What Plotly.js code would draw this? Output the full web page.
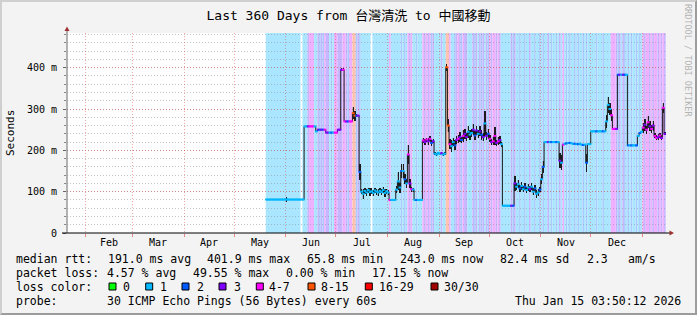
<!DOCTYPE html>
<html><head><meta charset="utf-8">
<script src="https://cdn.plot.ly/plotly-3.0.1.min.js"></script>
<style>
html,body{margin:0;padding:0;background:#f3f3f3;}
#wrap{position:relative;width:697px;height:315px;}
#chart{width:697px;height:315px;}
#frame{position:absolute;left:0;top:0;width:697px;height:315px;box-sizing:border-box;border:2px solid;border-color:#cfcfcf #9c9c9c #9c9c9c #cfcfcf;pointer-events:none;}
</style>
</head><body>
<div id="wrap"><div id="chart"></div><div id="frame"></div></div>
<script>
// ---------------- data ----------------
const titleText = 'Last 360 Days from 台灣清洗 to 中國移動';
const startDay = '2025-05-20';          // first day with samples
const xRange = ['2025-01-20 18:00', '2026-01-15 03:50'];

// daily median rtt (ms)
const median = [
 81,81,81,81,81,81,81,81,81,81,
 81,81,81,81,81,81,81,81,81,81,
 81,81,81,258,258,258,258,258,258,258,
 246,250,250,250,250,250,243,243,243,243,
 243,243,243,250,250,395,395,270,270,270,
 270,270,290,284,284,284,148,100,95,102,
 98,104,99,101,97,103,100,98,102,99,
 104,97,101,98,80,80,80,80,105,125,
 110,150,150,130,120,190,120,106,105,80,
 80,80,80,80,224,220,226,222,228,218,
 222,192,190,194,191,193,190,192,401,260,
 215,210,220,212,225,228,232,225,235,240,
 232,245,238,242,250,236,248,240,246,238,
 232,265,235,240,228,220,222,235,218,222,
 225,215,66,66,66,66,66,66,66,120,
 112,118,108,114,106,112,104,110,106,112,
 100,108,95,98,105,130,160,220,220,220,
 220,220,220,220,220,220,175,170,214,216,
 217,218,218,217,216,216,215,215,216,214,
 213,214,170,215,215,246,246,246,246,246,
 246,246,246,246,270,310,300,285,252,252,
 252,383,383,383,383,383,383,212,212,212,
 212,212,212,235,242,245,255,262,250,268,
 258,252,260,235,230,232,236,230,303,240
];
// daily smoke half-spread around the median (ms)
const spread = [
 0,0,0,0,0,0,0,0,0,0,
 0,0,5,0,0,0,0,0,0,0,
 0,0,0,0,0,0,0,0,0,0,
 0,0,0,0,0,0,0,0,0,0,
 0,0,0,0,0,4,4,0,0,0,
 0,0,15,12,4,0,20,6,12,7,
 8,6,9,7,8,6,7,9,6,8,
 7,9,6,7,0,0,0,0,8,22,
 12,18,18,12,10,22,10,6,5,0,
 0,0,0,0,6,7,5,8,6,7,
 5,3,3,3,3,3,3,3,8,15,
 12,14,10,12,10,10,12,8,14,12,
 10,15,12,10,14,10,12,10,12,12,
 10,30,10,12,8,8,10,22,8,10,
 10,6,0,0,0,0,0,0,0,18,
 8,10,8,10,7,9,7,8,7,9,
 8,7,10,8,6,12,15,0,0,0,
 0,0,0,0,0,0,18,18,0,0,
 0,0,0,0,0,0,0,0,0,0,
 0,0,22,0,0,0,0,0,0,0,
 0,0,0,0,15,20,15,15,0,0,
 0,0,0,0,0,0,0,0,0,0,
 0,0,0,0,0,0,12,14,10,14,
 12,10,12,6,6,8,6,6,12,4
];
// daily loss class (0 none, 1, 2, 3, 4 = 4-7, 8 = 8-15)
const lossClass = [
 1,1,1,1,1,1,1,1,1,1,
 1,1,1,1,1,1,1,1,1,1,
 1,0,1,1,1,3,4,4,4,1,
 1,3,2,3,2,4,3,3,1,2,
 1,4,4,3,3,3,4,4,3,2,
 4,4,8,8,2,3,2,1,1,1,
 1,1,1,0,1,1,1,1,1,1,
 1,1,1,1,4,1,1,1,1,1,
 1,2,1,2,1,4,3,4,1,1,
 2,1,1,1,4,3,4,3,4,2,
 3,1,1,1,1,3,1,1,8,8,
 4,1,1,2,3,4,3,2,4,3,
 3,1,1,1,3,2,3,1,3,2,
 3,1,3,2,4,3,4,4,3,4,
 3,1,1,1,1,1,1,3,2,3,
 1,1,2,1,1,2,1,1,3,1,
 1,2,1,1,2,1,2,1,1,3,
 1,2,1,1,2,1,3,1,4,1,
 2,1,2,1,1,2,1,2,1,1,
 2,1,2,1,1,1,1,1,2,1,
 1,1,2,1,1,1,1,4,4,4,
 3,2,3,1,3,2,1,2,1,2,
 1,1,2,1,2,1,4,3,4,4,
 3,4,3,4,4,3,4,3,4,3
];
const monthStarts = ['2025-02-01','2025-03-01','2025-04-01','2025-05-01','2025-06-01','2025-07-01',
  '2025-08-01','2025-09-01','2025-10-01','2025-11-01','2025-12-01','2026-01-01'];
const monthLabels = ['Feb','Mar','Apr','May','Jun','Jul','Aug','Sep','Oct','Nov','Dec'];
const yTickVals = [0,100,200,300,400];
const yTickText = ['0','100 m','200 m','300 m','400 m'];
const rttLabel = 'median rtt:';
const rttStats = ['191.0 ms avg','401.9 ms max','65.8 ms min','243.0 ms now','82.4 ms sd','2.3','am/s'];
const lossLabel = 'packet loss:';
const lossStats = ['4.57 % avg','49.55 % max','0.00 % min','17.15 % now'];
const colorLabel = 'loss color:';
const lossLegend = ['0','1','2','3','4-7','8-15','16-29','30/30'];
const lossLegendColors = ['#00ff00','#00b8ff','#0059ff','#7e00ff','#ff00ff','#ff5500','#ff0000','#a10000'];
const probeLabel = 'probe:';
const probeText = '30 ICMP Echo Pings (56 Bytes) every 60s';
const stampText = 'Thu Jan 15 03:50:12 2026';
const sideText = 'RRDTOOL / TOBI OETIKER';

// ---------------- styles / layout positions ----------------
const MONO = 'DejaVu Sans Mono, Noto Sans CJK TC, monospace';
const bgColors = {0:'#ffffff',1:'#aae6ff',2:'#aacbff',3:'#c6b6ff',4:'#eeb0ff',8:'#ffc2b0'};
const lineColors = {0:'#00b8ff',1:'#00b8ff',2:'#0059ff',3:'#7e00ff',4:'#ff00ff',8:'#ff5500'};
const L = 67, R = 666, T = 33, B = 233, W = 697, H = 315;
const px = v => (v - L) / (R - L);
const py = v => (B - v) / (B - T);
const rttX = [107.7, 207, 307.3, 400.3, 500, 586.7, 628.3];
const lossX = [107, 193.3, 286, 372];
const boxX = [109, 145.7, 182, 219, 256.3, 308, 365.3, 431];
const boxLabelX = [123, 160, 196.5, 233.5, 269.3, 321.3, 378.7, 444];
const rowY = [258.7, 273.3, 287, 301.3];
const textLeft = 16, probeX = 107, stampRight = 681;
const PAD = 2;

// ---------------- build ----------------
const DAY = 86400000;
const t0 = Date.parse(startDay + 'T00:00:00Z');
const iso = ms => new Date(ms).toISOString().replace('T',' ').slice(0,19);
const n = median.length;
const dayStart = median.map((_, i) => iso(t0 + i*DAY));
const dayEnd = iso(t0 + n*DAY);
const dayMid = median.map((_, i) => iso(t0 + i*DAY + DAY/2));

const shapes = [];
// loss background (merged runs), below gridlines
let runStart = 0;
for (let i = 1; i <= n; i++) {
  if (i === n || lossClass[i] !== lossClass[runStart]) {
    shapes.push({type:'rect', xref:'x', yref:'paper', x0: iso(t0+runStart*DAY), x1: iso(t0+i*DAY),
      y0:0, y1:1, fillcolor: bgColors[lossClass[runStart]], line:{width:0}, layer:'below'});
    runStart = i;
  }
}
// axes lines and arrows
shapes.push({type:'line', xref:'paper', yref:'paper', x0:0, x1:0, y0:0, y1:py(29), line:{color:'#6a6a6a', width:1}, layer:'above'});
shapes.push({type:'line', xref:'paper', yref:'paper', x0:px(62), x1:px(670), y0:0, y1:0, line:{color:'#000000', width:1}, layer:'above'});
shapes.push({type:'path', xref:'paper', yref:'paper',
  path:`M ${px(64.5)} ${py(31)} L ${px(67)} ${py(26.5)} L ${px(69.5)} ${py(31)} Z`, fillcolor:'#a03030', line:{width:0}, layer:'above'});
shapes.push({type:'path', xref:'paper', yref:'paper',
  path:`M ${px(669.5)} ${py(230.5)} L ${px(674)} ${py(233)} L ${px(669.5)} ${py(235.5)} Z`, fillcolor:'#a03030', line:{width:0}, layer:'above'});
// legend boxes
lossLegendColors.forEach((c, i) => {
  shapes.push({type:'rect', xref:'paper', yref:'paper', x0:px(boxX[i]), x1:px(boxX[i]+7),
    y0:py(290), y1:py(283), fillcolor:c, line:{color:'#000', width:1}, layer:'above'});
});

const ann = [];
const txt = (text, x, y, opt={}) => ann.push(Object.assign({text, xref:'paper', yref:'paper', x:px(x), y:py(y),
  xanchor:'left', yanchor:'middle', showarrow:false, font:{family:MONO, size:11.5, color:'#000'}}, opt));
// month labels at the middle of each month
monthLabels.forEach((m, i) => {
  const a = Date.parse(monthStarts[i]+'T00:00:00Z'), b = Date.parse(monthStarts[i+1]+'T00:00:00Z');
  ann.push({text:m, xref:'x', yref:'paper', x: iso((a+b)/2), y: py(242.7), xanchor:'center', yanchor:'middle',
    showarrow:false, font:{family:MONO, size:10, color:'#000'}});
});
txt('Seconds', 10, 133, {xanchor:'center', textangle:-90, font:{family:MONO, size:11, color:'#000'}});
txt(sideText, 688, 60, {xanchor:'center', textangle:90, font:{family:MONO, size:8.5, color:'#b4b4b4'}});
txt(rttLabel, textLeft-PAD, rowY[0]);
rttStats.forEach((s,i) => txt(s, rttX[i]-PAD, rowY[0]));
txt(lossLabel, textLeft-PAD, rowY[1]);
lossStats.forEach((s,i) => txt(s, lossX[i]-PAD, rowY[1]));
txt(colorLabel, textLeft-PAD, rowY[2]);
lossLegend.forEach((s,i) => txt(s, boxLabelX[i]-PAD, rowY[2]));
txt(probeLabel, textLeft-PAD, rowY[3]);
txt(probeText, probeX-PAD, rowY[3]);
txt(stampText, stampRight+PAD, rowY[3], {xanchor:'right'});

const idx = median.map((_, i) => i).filter(i => spread[i] > 0);
const traces = [
  {type:'bar', x: idx.map(i=>dayMid[i]), base: idx.map(i=>median[i]-spread[i]), y: idx.map(i=>2*spread[i]),
   width: DAY, marker:{color:'rgba(120,120,120,0.3)', line:{width:0}}, hoverinfo:'skip'},
  {type:'scatter', mode:'lines', x: dayStart.concat([dayEnd]), y: median.concat([median[n-1]]),
   line:{shape:'hv', color:'#1a1a1a', width:1}, hoverinfo:'skip'},
  {type:'scatter', mode:'markers', x: dayMid, y: median,
   marker:{symbol:'line-ew', size:2, line:{width:2, color: lossClass.map(c=>lineColors[c])}}, hoverinfo:'skip'},
  {type:'bar', x: idx.map(i=>dayMid[i]), base: idx.map(i=>median[i]-spread[i]), y: idx.map(i=>2*spread[i]),
   width: DAY*0.75, marker:{color:'#1c1c1c', line:{width:0}}, hoverinfo:'skip'}
];

const gridRed = 'rgba(225,60,60,0.45)';
const layout = {
  width: W, height: H,
  margin: {l:L, r:W-R, t:T, b:H-B, pad:0},
  paper_bgcolor:'#f3f3f3', plot_bgcolor:'#ffffff',
  showlegend:false, barmode:'overlay', bargap:0,
  title:{text:titleText, font:{family:MONO, size:13, color:'#000'}, x:0.5, xref:'container', xanchor:'center',
         y:1-15/H, yref:'container', yanchor:'middle'},
  xaxis:{type:'date', range:xRange, tickmode:'array', tickvals:monthStarts, showticklabels:false,
         showgrid:true, gridcolor:gridRed, griddash:'1px,2px', gridwidth:1,
         ticks:'outside', ticklen:3, tickcolor:'rgba(225,60,60,0.6)', showline:false, zeroline:false, fixedrange:true},
  yaxis:{range:[0,484], tickmode:'array', tickvals:yTickVals, ticktext:yTickText,
         showgrid:true, gridcolor:gridRed, griddash:'1px,2px', gridwidth:1,
         minor:{tickmode:'linear', tick0:0, dtick:20, showgrid:true, gridcolor:'rgba(140,140,140,0.5)', griddash:'1px,2px',
                ticks:'outside', ticklen:2, tickcolor:'#888'},
         ticks:'outside', ticklen:3, tickcolor:'#666', ticklabelstandoff:4,
         tickfont:{family:MONO, size:10, color:'#000'}, showline:false, zeroline:false, fixedrange:true},
  shapes, annotations: ann
};
Plotly.newPlot('chart', traces, layout, {staticPlot:true, displayModeBar:false});
</script>
</body></html>
